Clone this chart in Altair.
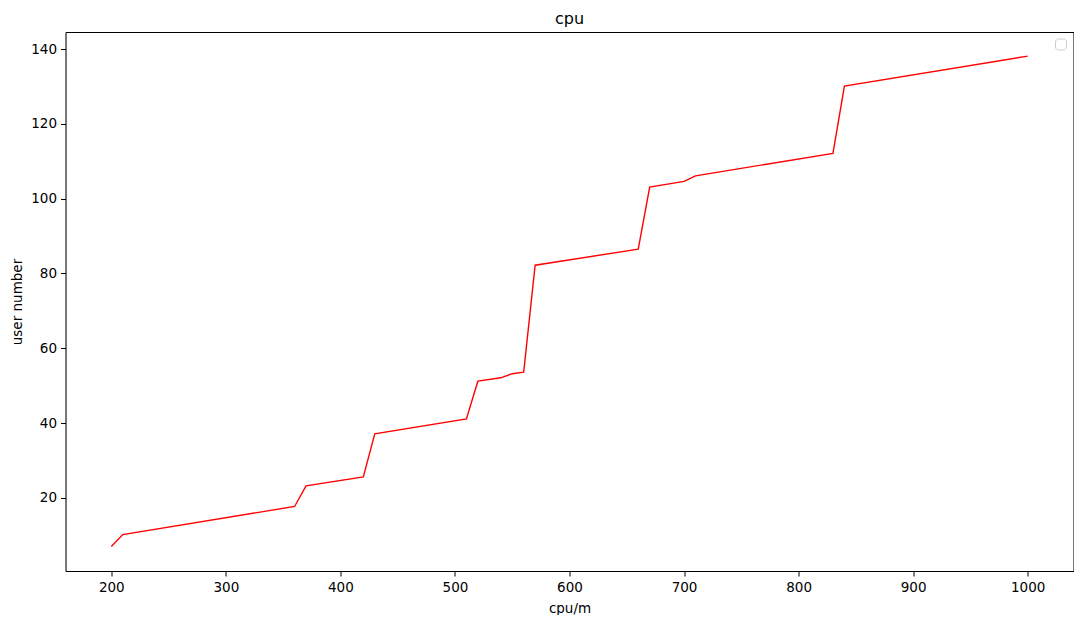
import altair as alt
import pandas as pd

cpu = [200, 210, 360, 370, 420, 430, 510, 520, 540, 550, 560, 570, 660, 670, 700, 710, 830, 840, 1000]
users = [7.0, 10.2, 17.7, 23.2, 25.6, 37.1, 41.1, 51.2, 52.1, 53.2, 53.6, 82.2, 86.5, 103.1, 104.6, 106.1, 112.1, 130.1, 138.1]

df = pd.DataFrame({"cpu": cpu, "users": users})
FONT = "DejaVu Sans"
xscale = alt.Scale(domain=[160, 1040], nice=False, zero=False)
yscale = alt.Scale(domain=[0.45, 144.55], nice=False, zero=False)

line = alt.Chart(df).mark_line(color="red", strokeWidth=1.4, clip=True).encode(
    x=alt.X("cpu:Q", title="cpu/m", scale=xscale,
            axis=alt.Axis(values=list(range(200, 1001, 100)), format="d", grid=False, tickSize=5,
                          labelPadding=4, titlePadding=8, labelFontSize=13.5, titleFontSize=13.5,
                          labelFont=FONT, titleFont=FONT, titleFontWeight="normal",
                          domainColor="black", tickColor="black", labelColor="black",
                          labelFlush=False)),
    y=alt.Y("users:Q", title="user number", scale=yscale,
            axis=alt.Axis(values=list(range(20, 141, 20)), format="d", grid=False, tickSize=5,
                          labelPadding=4, titlePadding=6, labelFontSize=13.5, titleFontSize=13.5,
                          labelFont=FONT, titleFont=FONT, titleFontWeight="normal",
                          domainColor="black", tickColor="black", labelColor="black",
                          labelFlush=False)),
)

frame = alt.Chart(df).mark_line(opacity=0).encode(
    x=alt.X("cpu:Q", title=None, scale=xscale,
            axis=alt.Axis(orient="top", ticks=False, labels=False, grid=False, domainColor="black")),
    y=alt.Y("users:Q", title=None, scale=yscale,
            axis=alt.Axis(orient="right", ticks=False, labels=False, grid=False, domainColor="black")),
)

legend_box = alt.Chart(pd.DataFrame({"a": [0]})).mark_rect(
    fill="white", stroke="#cccccc", strokeWidth=1, cornerRadius=3
).encode(
    x=alt.value(990), x2=alt.value(1001), y=alt.value(7), y2=alt.value(18)
)

chart = alt.layer(line, frame, legend_box).resolve_axis(x="independent", y="independent").properties(
    width=1008, height=539,
    title=alt.TitleParams("cpu", font=FONT, fontSize=16, fontWeight="normal", anchor="middle", offset=5, color="black"),
    autosize=alt.AutoSizeParams(type="none"),
    padding={"left": 57.5, "top": 24, "right": 0, "bottom": 44},
).configure_view(stroke=None).configure(background="white")

chart.save("out.html", embed_options={"renderer": "svg", "actions": False})
